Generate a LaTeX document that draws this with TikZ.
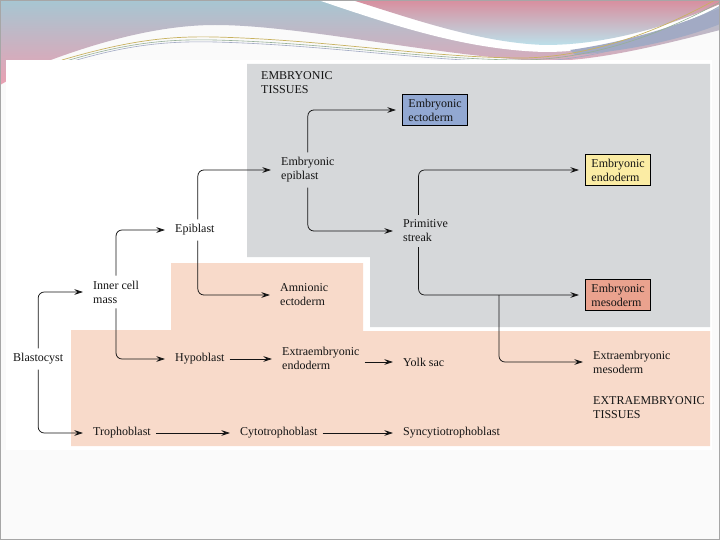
\documentclass[tikz,border=0pt]{standalone}
\usepackage{fontspec}
\setmainfont{Liberation Serif}
\usetikzlibrary{arrows.meta}

\definecolor{slidebg}{RGB}{250,250,250}
\definecolor{bandblue}{RGB}{166,198,210}
\definecolor{bandpink}{RGB}{234,160,178}
\definecolor{bandrose}{RGB}{216,142,158}
\definecolor{bandsky}{RGB}{188,224,234}
\definecolor{bandslate}{RGB}{162,170,196}
\definecolor{bandgold}{RGB}{200,178,96}
\definecolor{bandgreen}{RGB}{150,176,150}
\definecolor{embgray}{RGB}{214,216,218}
\definecolor{extrapink}{RGB}{248,218,202}
\definecolor{ectoblue}{RGB}{146,168,210}
\definecolor{endoyellow}{RGB}{251,236,164}
\definecolor{mesosalmon}{RGB}{234,162,142}
\definecolor{inktext}{RGB}{20,20,20}

\newcommand\tissuefont{\fontsize{12}{14}\selectfont}
\tikzstyle{tissue} = [anchor=west, align=left, inner sep=2pt, font=\tissuefont, text=inktext]
\tikzstyle{germbox} = [tissue, draw=black, line width=0.9pt, inner xsep=6pt, inner ysep=4pt]
\tikzstyle{arrow} = [line width=0.75pt, draw=inktext, ->, >={Stealth[length=8.5pt,width=5.5pt]}, shorten <=3pt, shorten >=8pt]
\tikzstyle{elbow} = [arrow, rounded corners=6pt]

\begin{document}
\begin{tikzpicture}[x=1pt, y=-1pt]
\useasboundingbox (0,0) rectangle (720,540);

% slide background and top band
\fill[slidebg] (0,0) rectangle (720,540);
\shade[top color=bandblue, bottom color=bandpink] (0,0) -- (720,0) -- (720,30)
  .. controls (650,48) and (590,62) .. (540,61)
  .. controls (430,55) and (300,25) .. (215,25)
  .. controls (150,25) and (80,48) .. (30,68) -- (0,85) -- cycle;
\fill[white] (318,0) -- (720,0) -- (720,6) .. controls (660,36) and (600,52) .. (545,52)
  .. controls (470,50) and (400,28) .. (318,0) -- cycle;
\shade[top color=bandrose, bottom color=bandsky] (352,0) -- (720,0) -- (720,4)
  .. controls (660,30) and (600,45) .. (545,45)
  .. controls (480,43) and (410,18) .. (352,0) -- cycle;
\fill[bandslate] (570,50) .. controls (640,40) and (690,20) .. (720,8) -- (720,24)
  .. controls (690,36) and (640,50) .. (575,55) -- cycle;
\draw[bandgold, line width=0.7pt] (62,60) .. controls (130,40) and (170,36) .. (215,37)
  .. controls (330,40) and (430,58) .. (525,58) .. controls (600,56) and (670,25) .. (715,0);
\draw[bandgreen, line width=0.6pt] (66,61) .. controls (130,42) and (170,39) .. (215,40)
  .. controls (330,43) and (430,60) .. (525,60) .. controls (605,58) and (675,27) .. (720,2);
\draw[bandslate, line width=0.6pt] (70,62) .. controls (130,44) and (170,41) .. (215,42)
  .. controls (330,45) and (430,62) .. (525,62) .. controls (610,60) and (680,30) .. (720,6);
\draw[gray!70, line width=1pt] (0.5,0.5) rectangle (719.5,539.5);

% figure panel
\fill[white] (6,60) rectangle (712,450);
\fill[embgray] (247,64) -- (710,64) -- (710,327) -- (370,327) -- (370,257) -- (247,257) -- cycle;
\fill[extrapink] (171,263) -- (363,263) -- (363,331) -- (710,331) -- (710,446) -- (71,446) -- (71,330) -- (171,330) -- cycle;

\node (embtitle) [tissue] at (259,83) {EMBRYONIC\\TISSUES};
\node (exttitle) [tissue] at (591,408) {EXTRAEMBRYONIC\\TISSUES};

\node (blasto) [tissue] at (11,359) {Blastocyst};
\node (icm) [tissue] at (91,292) {Inner cell\\mass};
\node (tropho) [tissue] at (91,433) {Trophoblast};
\node (epi) [tissue] at (173,230) {Epiblast};
\node (hypo) [tissue] at (173,359) {Hypoblast};
\node (cyto) [tissue] at (238,433) {Cytotrophoblast};
\node (emepi) [tissue] at (279,170) {Embryonic\\epiblast};
\node (amnio) [tissue] at (278,295) {Amnionic\\ectoderm};
\node (exendo) [tissue] at (280,358) {Extraembryonic\\endoderm};
\node (streak) [tissue] at (401,231) {Primitive\\streak};
\node (yolk) [tissue] at (401,362) {Yolk sac};
\node (syncy) [tissue] at (401,433) {Syncytiotrophoblast};
\node (exmeso) [tissue] at (591,362) {Extraembryonic\\mesoderm};
\node (ecto) [germbox, fill=ectoblue] at (402,110) {Embryonic\\ectoderm};
\node (endo) [germbox, fill=endoyellow] at (585,170) {Embryonic\\endoderm};
\node (meso) [germbox, fill=mesosalmon] at (585,295) {Embryonic\\mesoderm};

\draw [elbow] (blasto.north) |- (icm.west);
\draw [elbow] (blasto.south) |- (tropho.west);
\draw [elbow] (icm.north) |- (epi.west);
\draw [elbow] (icm.south) |- (hypo.west);
\draw [elbow] ([xshift=3pt]epi.north) |- (emepi.west);
\draw [elbow] ([xshift=3pt]epi.south) |- (amnio.west);
\draw [elbow, shorten >=6pt] (emepi.north) |- (ecto.west);
\draw [elbow] (emepi.south) |- (streak.west);
\draw [elbow, shorten >=6pt] ([xshift=-7pt]streak.north) |- (endo.west);
\draw [elbow, shorten >=6pt] ([xshift=-7pt]streak.south) |- (meso.west);
\path (meso.west) ++(-86,0) coordinate (mesosplit);
\draw [elbow, shorten <=0pt] (mesosplit) |- (exmeso.west);

\draw [arrow] (hypo.east) -- (hypo.east -| exendo.west);
\draw [arrow] (yolk.west -| exendo.east) -- (yolk.west);
\draw [arrow] (tropho.east) -- (cyto.west);
\draw [arrow] (cyto.east) -- (syncy.west);

\end{tikzpicture}
\end{document}
